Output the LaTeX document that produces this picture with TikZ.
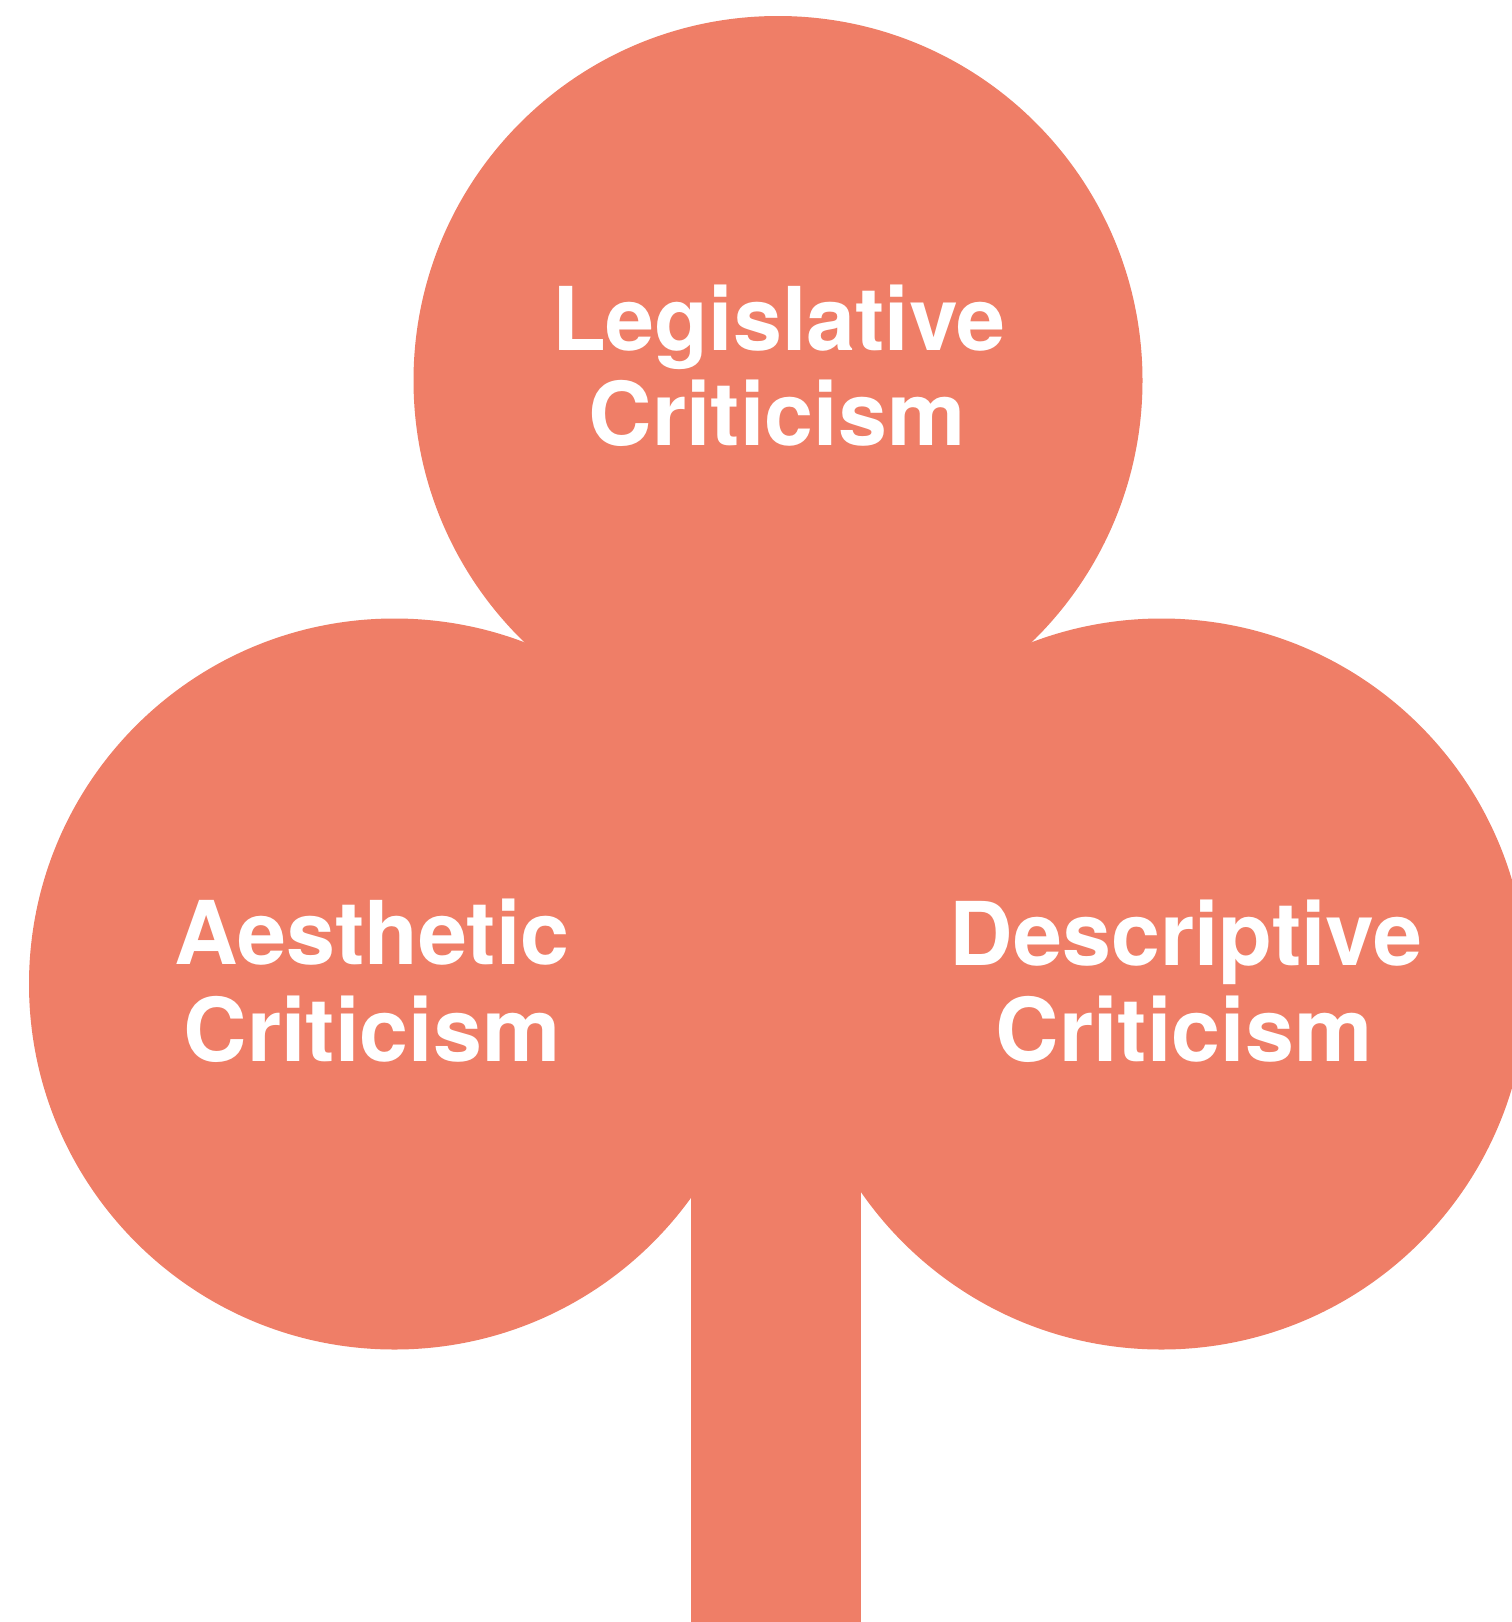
\documentclass[tikz,border=0pt]{standalone}
\usepackage{fontspec}
\setmainfont{TeX Gyre Heros}
\definecolor{clover}{RGB}{239,126,103}
\begin{document}
\begin{tikzpicture}[x=1pt,y=-1pt,
  lbl/.style={anchor=base,inner sep=0pt,text=white,font=\fontsize{88}{95}\selectfont\bfseries}]
\clip (0,0) rectangle (1512,1622);
\fill[white] (0,0) rectangle (1512,1622);
% clover shape
\fill[clover] (778,380.5) circle[radius=364.5];
\fill[clover] (394.5,984) circle[radius=365.5];
\fill[clover] (1161.5,984) circle[radius=365.5];
\fill[clover] (778,380.5) -- (394.5,984) -- (1161.5,984) -- cycle;
\fill[clover] (691,900) rectangle (861,1622);
% labels
\node[lbl] (leg1) at (779,350) {Legislative};
\node[lbl] (leg2) at (777,445) {Criticism};
\node[lbl] (aes1) at (372,964) {Aesthetic};
\node[lbl] (aes2) at (372,1061.5) {Criticism};
\node[lbl] (des1) at (1186,965) {Descriptive};
\node[lbl] (des2) at (1184,1061.5) {Criticism};
\end{tikzpicture}
\end{document}
